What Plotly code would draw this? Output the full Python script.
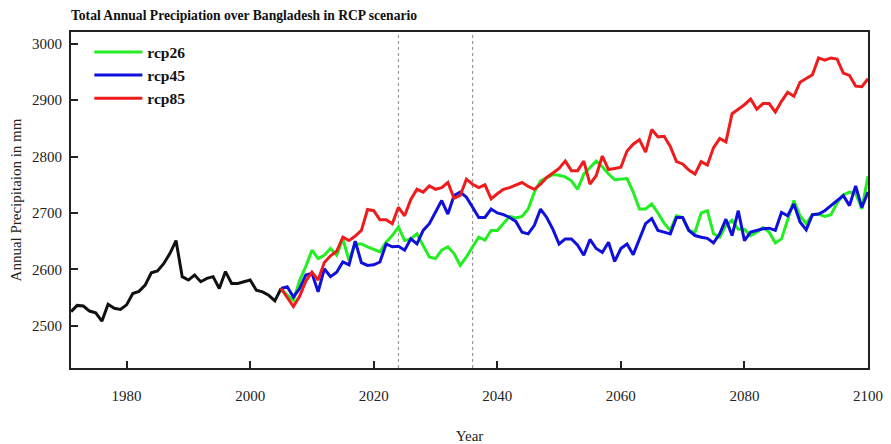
import plotly.graph_objects as go

hist_years = list(range(1971, 2006))
hist_vals = [2525, 2536, 2535, 2526, 2523, 2508, 2538, 2531, 2529, 2537,
             2557, 2561, 2572, 2594, 2597, 2610, 2628, 2651, 2587, 2581,
             2590, 2578, 2584, 2587, 2566, 2596, 2575, 2575, 2578, 2581,
             2563, 2560, 2554, 2544, 2566]

proj_years = list(range(2005, 2101))

rcp26 = [2566, 2554, 2545, 2580, 2605, 2634, 2619, 2625, 2637, 2625,
         2654, 2616, 2645, 2645, 2640, 2635, 2631, 2648, 2660, 2675,
         2651, 2654, 2663, 2642, 2622, 2619, 2634, 2640, 2628, 2607,
         2622, 2640, 2657, 2652, 2669, 2669, 2681, 2694, 2691, 2694,
         2707, 2737, 2757, 2763, 2768, 2767, 2764, 2757, 2742, 2769,
         2781, 2792, 2782, 2769, 2759, 2760, 2761, 2737, 2707, 2707,
         2716, 2700, 2682, 2669, 2695, 2692, 2669, 2666, 2700, 2704,
         2663, 2657, 2678, 2687, 2671, 2671, 2660, 2666, 2674, 2666,
         2647, 2654, 2687, 2722, 2695, 2681, 2697, 2698, 2694, 2697,
         2718, 2732, 2737, 2735, 2707, 2765]

rcp45 = [2566, 2569, 2551, 2566, 2590, 2593, 2560, 2601, 2587, 2595,
         2613, 2608, 2650, 2612, 2607, 2608, 2613, 2645, 2640, 2641,
         2634, 2654, 2645, 2669, 2681, 2701, 2722, 2698, 2731, 2737,
         2728, 2710, 2692, 2692, 2707, 2700, 2697, 2692, 2685, 2666,
         2663, 2678, 2707, 2692, 2671, 2645, 2654, 2654, 2643, 2625,
         2653, 2637, 2630, 2648, 2614, 2637, 2645, 2626, 2654, 2681,
         2690, 2669, 2666, 2663, 2692, 2692, 2669, 2660, 2657, 2655,
         2647, 2663, 2689, 2660, 2704, 2651, 2666, 2669, 2672, 2673,
         2669, 2701, 2695, 2716, 2684, 2670, 2697, 2698, 2704, 2713,
         2722, 2731, 2713, 2748, 2710, 2737]

rcp85 = [2566, 2550, 2534, 2552, 2579, 2595, 2581, 2612, 2624, 2632,
         2657, 2651, 2659, 2669, 2706, 2704, 2688, 2688, 2681, 2710,
         2695, 2724, 2742, 2737, 2748, 2742, 2745, 2754, 2726, 2731,
         2760, 2751, 2745, 2750, 2725, 2734, 2742, 2745, 2750, 2754,
         2747, 2742, 2751, 2763, 2771, 2779, 2792, 2775, 2775, 2792,
         2751, 2766, 2801, 2777, 2779, 2781, 2810, 2822, 2830, 2808,
         2848, 2835, 2836, 2818, 2791, 2787, 2776, 2769, 2791, 2785,
         2816, 2832, 2826, 2876, 2884, 2892, 2902, 2884, 2894, 2894,
         2879, 2898, 2914, 2907, 2932, 2938, 2945, 2975, 2971, 2975,
         2973, 2948, 2944, 2925, 2924, 2938]

marker_years = [2024, 2036]
x_ticks = [1980, 2000, 2020, 2040, 2060, 2080, 2100]
y_ticks = [2500, 2600, 2700, 2800, 2900, 3000]

FONT = "Liberation Serif"
W, H = 883, 436  # page body has an 8px margin

fig = go.Figure()
fig.add_trace(go.Scatter(x=hist_years, y=hist_vals, mode="lines",
                         line=dict(color="#111111", width=3), showlegend=False))
fig.add_trace(go.Scatter(x=proj_years, y=rcp26, mode="lines", name="rcp26",
                         line=dict(color="#22ee22", width=3)))
fig.add_trace(go.Scatter(x=proj_years, y=rcp45, mode="lines", name="rcp45",
                         line=dict(color="#1010dd", width=3)))
fig.add_trace(go.Scatter(x=proj_years, y=rcp85, mode="lines", name="rcp85",
                         line=dict(color="#ee1c1c", width=3)))

for yr in marker_years:
    fig.add_shape(type="line", x0=yr, x1=yr, y0=0, y1=1, xref="x", yref="paper",
                  line=dict(color="#999999", width=1.2, dash="dot"), layer="below")

fig.update_layout(
    width=W, height=H,
    margin=dict(l=63, r=23, t=24, b=76, autoexpand=False),
    paper_bgcolor="white", plot_bgcolor="white",
    font=dict(family=FONT, color="#222222", size=15),
    title=dict(text="<b>Total Annual Precipiation over Bangladesh in RCP scenario</b>",
               x=63/W, xanchor="left", y=1-7/H, yanchor="middle",
               font=dict(family=FONT, size=13.6, color="#111111")),
    legend=dict(x=0.023, y=0.99, xanchor="left", yanchor="top",
                bgcolor="rgba(0,0,0,0)", borderwidth=0,
                font=dict(family=FONT, size=15.5, color="#111111", weight="bold"),
                tracegroupgap=0, itemwidth=48),
    showlegend=True,
)

fig.update_xaxes(range=[1971, 2100], tickvals=x_ticks, ticks="inside", ticklen=7,
                 tickwidth=1.5, tickcolor="#222222", showgrid=False, zeroline=False,
                 showline=True, linecolor="#222222", linewidth=2, mirror=True,
                 automargin=False,
                 ticklabelstandoff=13, tickfont=dict(size=15),
                 title=dict(text="Year", standoff=28, font=dict(size=15)))
fig.update_yaxes(range=[2425, 3021], tickvals=y_ticks, ticks="inside", ticklen=7,
                 tickwidth=1.5, tickcolor="#222222", showgrid=False, zeroline=False,
                 showline=True, linecolor="#222222", linewidth=2, mirror=True,
                 automargin=False,
                 ticklabelstandoff=4, tickfont=dict(size=15),
                 title=dict(text="Annual Precipitaion in mm", standoff=10, font=dict(size=15)))

fig.write_html("out.html")
